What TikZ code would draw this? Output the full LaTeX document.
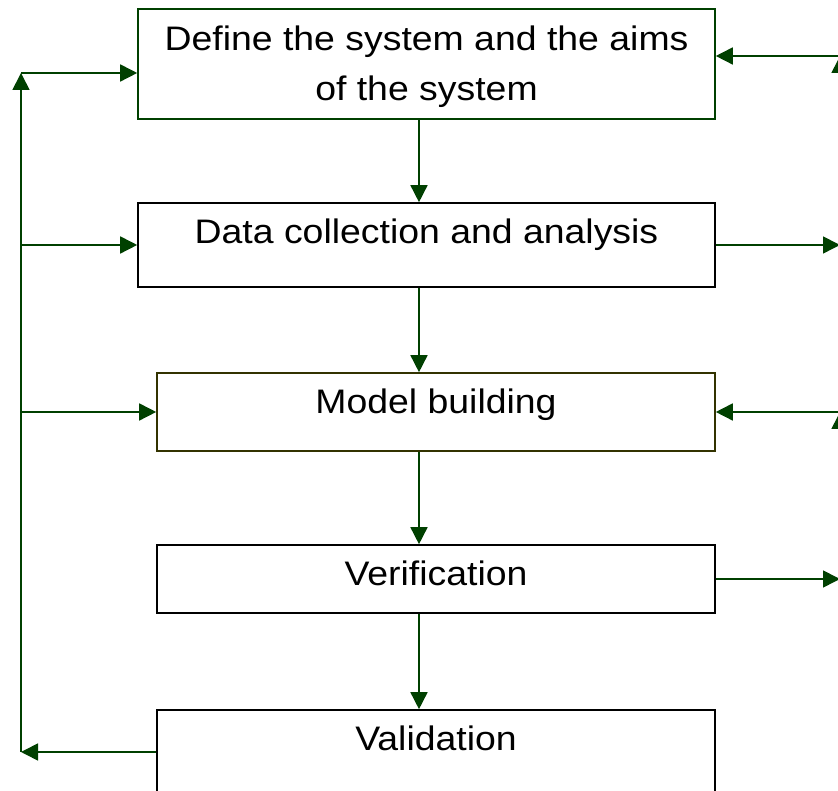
\documentclass[tikz,border=0pt]{standalone}
\usepackage{fontspec}
\setmainfont{Liberation Sans}[FakeStretch=1.1]
\usepackage{xcolor}
\usetikzlibrary{arrows.meta, positioning, calc}

\definecolor{flowgreen}{RGB}{0,64,0}
\definecolor{flowolive}{RGB}{51,51,0}

\begin{document}
\begin{tikzpicture}[
	  x=1pt, y=1pt,
	  font=\fontsize{34}{50}\selectfont,
	  box/.style={
	    draw,
	    line width=1.6pt,
	    align=center,
	    inner sep=0pt
	  },
	  arrow/.style={-{Triangle[length=17pt, width=17pt]}, line width=1.6pt, draw=flowgreen}
	]
	
	\path[use as bounding box] (0,0) rectangle (838,791);
	\clip (0,0) rectangle (838,791);
	
	\node[box, draw=flowgreen, minimum width=577pt, minimum height=110pt] (define) at (426.5,727) {\rule{0pt}{31pt}Define the system and the aims\\of the system};
	\node[box, minimum width=577pt, minimum height=84pt, text height=24pt, text depth=26pt] (data) at (426.5,546) {Data collection and analysis};
	\node[box, draw=flowolive, minimum width=558pt, minimum height=78pt, text height=24pt, text depth=20pt] (model) at (436,379) {Model building};
	\node[box, minimum width=558pt, minimum height=68pt, text height=24pt, text depth=10pt] (verif) at (436,212) {Verification};
	\node[box, minimum width=558pt, minimum height=84pt, text height=24pt, text depth=26pt] (valid) at (436,39) {Validation};
	
	% main flow
	\coordinate (spine) at (419,0);
	\draw[arrow] (define.south -| spine) -- (data.north -| spine);
	\draw[arrow] (data.south -| spine) -- (model.north -| spine);
	\draw[arrow] (model.south -| spine) -- (verif.north -| spine);
	\draw[arrow] (verif.south -| spine) -- (valid.north -| spine);
	
	% feedback on the left
	\coordinate (lrail) at (21,0);
	\coordinate (ltop) at (21,718);
	\draw[arrow] (valid.west) -- (valid.west -| lrail);
	\draw[arrow] (valid.west -| lrail) -- (ltop);
	\draw[arrow] (ltop) -- (ltop -| define.west);
	\draw[arrow] (data.west -| lrail) -- (data.west);
	\draw[arrow] (model.west -| lrail) -- (model.west);
	
	% feedback on the right
	\coordinate (rrail) at (840,0);
	\coordinate (rtop) at (840,735);
	\draw[arrow] (data.east) -- (data.east -| rrail);
	\draw[arrow] (data.east -| rrail) -- (rtop);
	\draw[arrow] (rtop) -- (rtop -| define.east);
	\draw[arrow] (verif.east) -- (verif.east -| rrail);
	\draw[arrow] (verif.east -| rrail) -- (model.east -| rrail);
	\draw[arrow] (model.east -| rrail) -- (model.east);
	
	\end{tikzpicture}
\end{document}
